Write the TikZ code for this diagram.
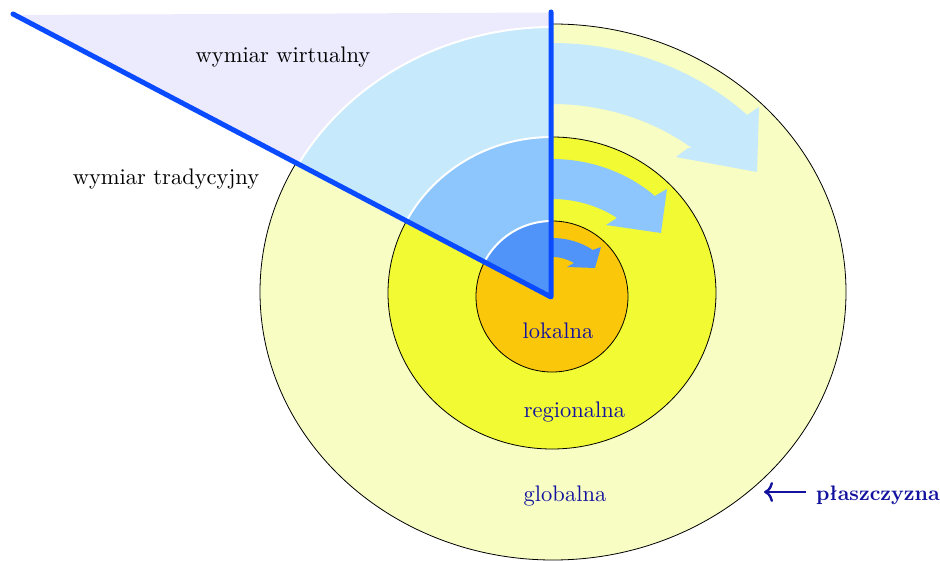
\documentclass[tikz,border=0pt]{standalone}
\usepackage{fontspec}
\setmainfont{lmroman10-regular}[Extension=.otf, BoldFont=lmroman10-bold, ItalicFont=lmroman10-italic]
\usetikzlibrary{arrows.meta}
\definecolor{lav}{HTML}{ECEAFD}
\definecolor{paleyel}{HTML}{F7FDC3}
\definecolor{yel}{HTML}{F1FA32}
\definecolor{orng}{HTML}{FBC70A}
\definecolor{lblue}{HTML}{C6E9FC}
\definecolor{mblue}{HTML}{8CC6FC}
\definecolor{dblue}{HTML}{5094FA}
\definecolor{axisblue}{HTML}{0A4BFF}
\definecolor{txtblue}{HTML}{12129E}
\begin{document}
\begin{tikzpicture}[x=1pt,y=-1pt,
  ring/.style={draw=black, line width=0.8pt},
  sector/.style={draw=white, line width=2pt},
  axisline/.style={draw=axisblue, line width=5pt, line cap=round, line join=round},
  lbl/.style={inner sep=0pt, anchor=base, font=\fontsize{22.5}{27}\selectfont},
  zone/.style={lbl, text=txtblue},
  pointer/.style={draw=txtblue, line width=2.4pt, -{Computer Modern Rightarrow[length=9pt,width=20pt]}}]
\useasboundingbox (0,0) rectangle (940,561);

% concentric areas
\filldraw[ring, fill=paleyel] (553,292) ellipse [x radius=293pt, y radius=268pt];
\filldraw[ring, fill=yel] (552,293) ellipse [x radius=164pt, y radius=156pt];
\filldraw[ring, fill=orng] (552,296.5) ellipse [x radius=76pt, y radius=75.5pt];

% virtual wedge
\coordinate (O) at (551,297);
\coordinate (A) at (13,14);
\coordinate (B) at (551,12);
\fill[lav] (13,15) -- (551,12.5) -- (O) -- cycle;

\begin{scope}
  \clip (O) -- (A) -- (13,-30) -- (551,-30) -- cycle;
  \filldraw[sector, fill=lblue] (553,293) ellipse [x radius=291pt, y radius=266pt];
  \filldraw[sector, fill=mblue] (552,293) ellipse [x radius=164pt, y radius=156pt];
  \filldraw[sector, fill=dblue] (552,296.5) ellipse [x radius=76pt, y radius=75.5pt];
\end{scope}

% curved arrows
\fill[lblue] plot[domain=-90:-45.4, samples=40] ({552+278*cos(\x)}, {293+250*sin(\x)})
  -- (759,107) -- (757,172) -- (676,157) -- (688,148)
  -- plot[domain=-50.1:-90, samples=40] ({552+218*cos(\x)}, {293+189*sin(\x)}) -- cycle;
\fill[mblue] plot[domain=-90:-46.4, samples=40] ({552+149*cos(\x)}, {293+134*sin(\x)})
  -- (667,189) -- (661,233) -- (606,225) -- (617,218)
  -- plot[domain=-52.9:-90, samples=40] ({552+108*cos(\x)}, {293+94*sin(\x)}) -- cycle;
\fill[dblue] plot[domain=-90:-52.5, samples=30] ({552+67*cos(\x)}, {296+58*sin(\x)})
  -- (601,247) -- (595,268) -- (567,267) -- (574,263)
  -- plot[domain=-57.8:-90, samples=30] ({552+41*cos(\x)}, {296+39*sin(\x)}) -- cycle;

% axes
\draw[axisline] (A) -- (O) -- (B);

% labels
\node[lbl] (wv) at (283,63) {wymiar wirtualny};
\node[lbl] (wt) at (166,185) {wymiar tradycyjny};
\node[zone] (lok) at (558,339) {lokalna};
\node[zone] (reg) at (574.5,417) {regionalna};
\node[zone] (glob) at (565,501) {globalna};
\node[inner sep=0pt, anchor=base west, text=txtblue, font=\fontsize{21}{25}\selectfont\bfseries] (plas) at (816,500) {płaszczyzna};
\coordinate (pstart) at (806,492);
\coordinate (ptip) at (764,492);
\draw[pointer] (pstart) -- (ptip);
\end{tikzpicture}
\end{document}
